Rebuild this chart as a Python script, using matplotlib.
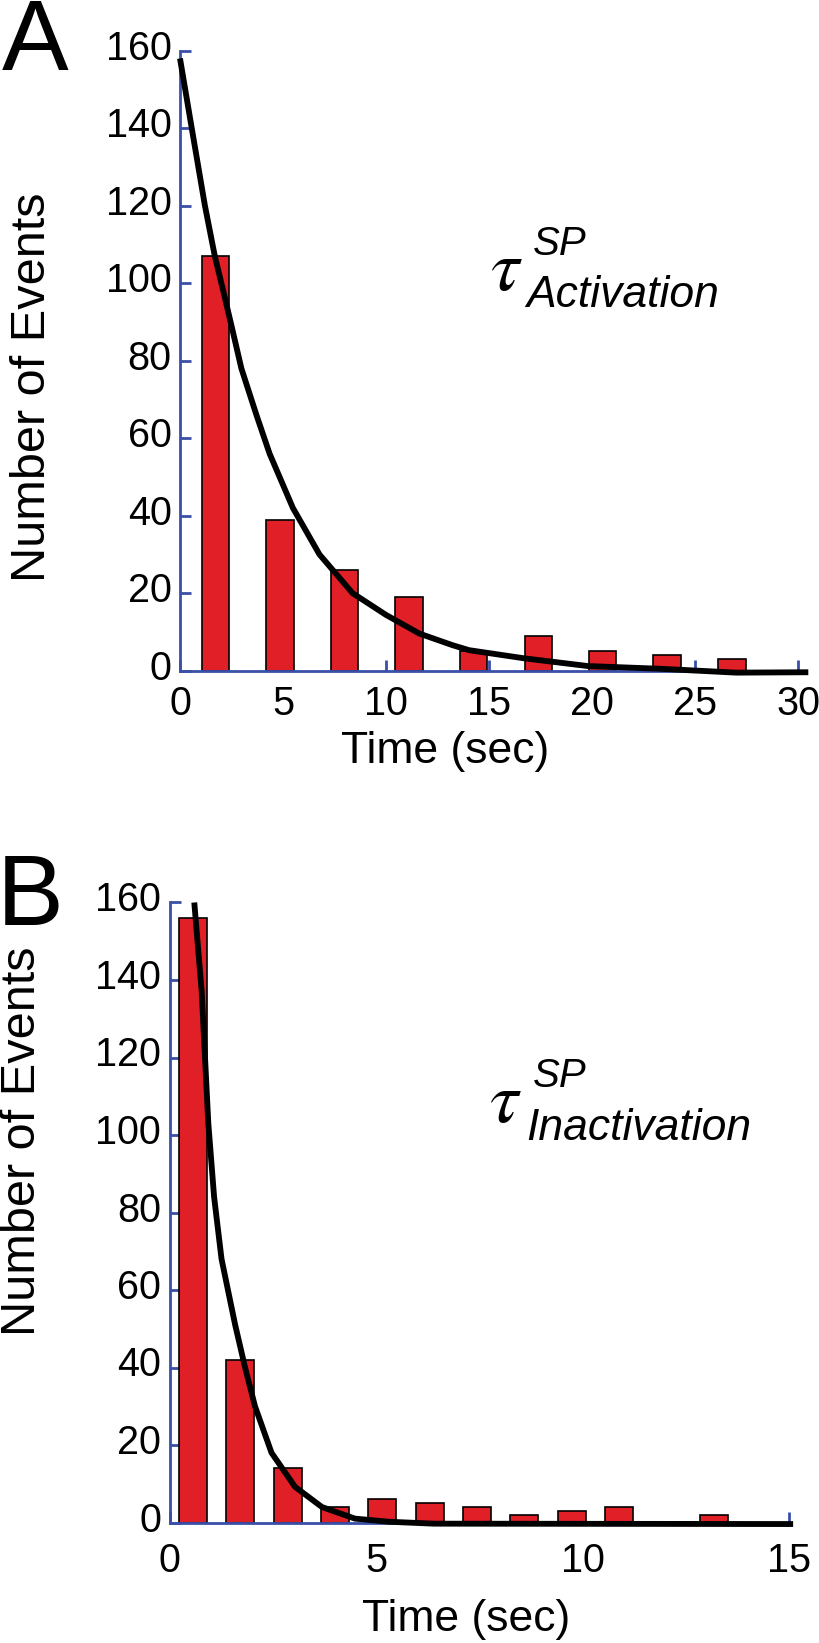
import matplotlib
matplotlib.use("Agg")
import matplotlib.pyplot as plt
import matplotlib.transforms as mtransforms

plt.rcParams['font.family'] = ['Liberation Sans', 'DejaVu Sans']
plt.rcParams['mathtext.fontset'] = 'stix'

# --- panel A: activation dwell times ---
a_centers = [1.72, 4.85, 7.99, 11.12, 14.25, 17.39, 20.52, 23.65, 26.79]
a_counts = [107, 39, 26, 19, 5, 9, 5, 4, 3]
a_fit_t = [0.0, 0.57, 1.21, 1.69, 2.1, 2.5, 2.98, 3.71, 4.35, 5.48, 6.77,
           8.38, 10.0, 11.61, 13.22, 14.03, 16.7, 19.8, 23.3, 27.0, 30.5]
a_fit_y = [158, 140, 120, 107, 98, 89, 78, 66, 56, 42, 30,
           20, 14.4, 9.6, 6.6, 5.3, 3.2, 1.2, 0.5, -0.5, -0.4]
a_xticks = [0, 5, 10, 15, 20, 25, 30]

# --- panel B: inactivation dwell times ---
b_centers = [0.565, 1.71, 2.86, 4.0, 5.15, 6.3, 7.45, 8.59, 9.74, 10.89, 13.18]
b_counts = [156, 42, 14, 4, 6, 5, 4, 2, 3, 4, 2]
b_fit_t = [0.6, 0.78, 0.86, 0.94, 1.08, 1.26, 1.59, 1.83, 2.07, 2.47,
           3.04, 3.69, 4.49, 5.3, 6.4, 15.1]
b_fit_y = [160, 137, 120, 103, 84, 68, 51, 40, 30, 18,
           9.2, 4.0, 1.0, 0.2, -0.3, -0.4]
b_xticks = [0, 5, 10, 15]

yticks = [0, 20, 40, 60, 80, 100, 120, 140, 160]

BLUE = '#3a4fa8'
RED = '#e01f27'
W, H = 819, 1643


def fx(px):
    return px / W


def fy(py):
    return 1 - py / H


fig = plt.figure(figsize=(W / 100, H / 100), dpi=100)


def make_panel(rect, centers, counts, width, fit_t, fit_y, xmax, xticks, xpad):
    ax = fig.add_axes(rect)
    ax.bar(centers, counts, width=width, color=RED, edgecolor='black',
           linewidth=1.2, zorder=2)
    ax.plot(fit_t, fit_y, color='black', linewidth=4.2, zorder=4,
            clip_on=False, solid_capstyle='butt')
    ax.set_xlim(0, xmax)
    ax.set_ylim(0, 160)
    ax.set_xticks(xticks)
    ax.set_yticks(yticks)
    for side in ('top', 'right'):
        ax.spines[side].set_visible(False)
    for side in ('left', 'bottom'):
        ax.spines[side].set_color(BLUE)
        ax.spines[side].set_linewidth(2.0)
        ax.spines[side].set_zorder(3)
    ax.tick_params(direction='in', length=8, width=2.0, color=BLUE,
                   labelsize=28.5, labelcolor='black')
    ax.tick_params(axis='y', pad=6)
    ax.tick_params(axis='x', pad=xpad)
    # y tick labels sit a little above their ticks in the original
    off = mtransforms.ScaledTranslation(0, 0.06, fig.dpi_scale_trans)
    for lab in ax.get_yticklabels():
        lab.set_transform(lab.get_transform() + off)
    return ax


# axes rectangles from pixel positions of the axis frame
axA = make_panel([fx(180), fy(670.7), 618 / W, 620 / H],
                 a_centers, a_counts, 1.33, a_fit_t, a_fit_y, 30, a_xticks, 10)
axB = make_panel([fx(169.5), fy(1522.5), 619.5 / W, 620 / H],
                 b_centers, b_counts, 0.68, b_fit_t, b_fit_y, 15, b_xticks, 14)

# axis titles
fig.text(fx(33), fy(387), 'Number of Events', rotation=90, fontsize=35,
         ha='center', va='center')
fig.text(fx(445), fy(752), 'Time (sec)', fontsize=32, ha='center', va='center')
fig.text(fx(23), fy(1141), 'Number of Events', rotation=90, fontsize=35,
         ha='center', va='center')
fig.text(fx(466), fy(1619), 'Time (sec)', fontsize=32, ha='center', va='center')

# panel letters
fig.text(fx(2), fy(70), 'A', fontsize=72, ha='left', va='baseline')
fig.text(fx(-3), fy(925), 'B', fontsize=72, ha='left', va='baseline')

# tau annotations
fig.text(fx(490), fy(290), r'$\tau$', fontsize=52, ha='left', va='baseline')
fig.text(fx(533), fy(255), 'SP', fontsize=29, style='italic',
         ha='left', va='baseline')
fig.text(fx(526), fy(307), 'Activation', fontsize=32, style='italic',
         ha='left', va='baseline')

fig.text(fx(489), fy(1122), r'$\tau$', fontsize=52, ha='left', va='baseline')
fig.text(fx(533), fy(1087), 'SP', fontsize=29, style='italic',
         ha='left', va='baseline')
fig.text(fx(526), fy(1140), 'Inactivation', fontsize=32, style='italic',
         ha='left', va='baseline')

fig.savefig('out.png', dpi=100)
